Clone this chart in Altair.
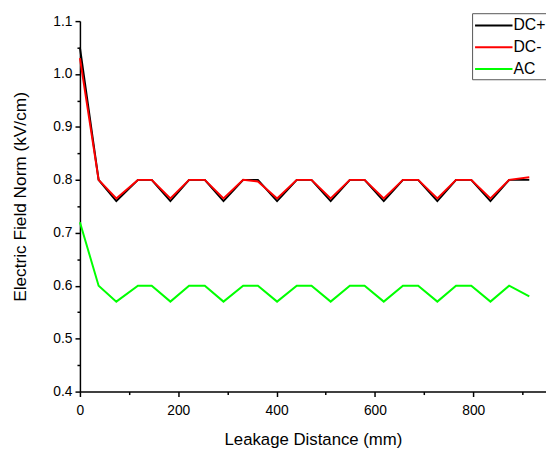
import altair as alt
import pandas as pd

distance = [0, 38, 74, 118, 146, 184, 222, 254, 292, 332, 362, 401, 441, 471,
            510, 549, 579, 618, 657, 688, 727, 765, 796, 835, 873, 914]
dc_plus = [1.05, 0.80, 0.76, 0.80, 0.80, 0.76, 0.80, 0.80, 0.76, 0.80, 0.80,
           0.76, 0.80, 0.80, 0.76, 0.80, 0.80, 0.76, 0.80, 0.80, 0.76, 0.80,
           0.80, 0.76, 0.80, 0.80]
dc_minus = [1.03, 0.80, 0.765, 0.80, 0.80, 0.765, 0.80, 0.80, 0.765, 0.80, 0.797,
            0.765, 0.80, 0.80, 0.765, 0.80, 0.80, 0.765, 0.80, 0.80, 0.765, 0.80,
            0.80, 0.765, 0.80, 0.805]
ac = [0.72, 0.60, 0.57, 0.60, 0.60, 0.57, 0.60, 0.60, 0.57, 0.60, 0.60,
      0.57, 0.60, 0.60, 0.57, 0.60, 0.60, 0.57, 0.60, 0.60, 0.57, 0.60,
      0.60, 0.57, 0.60, 0.58]

series_names = ["DC+", "DC-", "AC"]
series_colors = ["#000000", "#ff0000", "#00ff00"]

rows = []
for name, vals in zip(series_names, [dc_plus, dc_minus, ac]):
    for d, v in zip(distance, vals):
        rows.append({"Distance": d, "Field": v, "Series": name})
df = pd.DataFrame(rows)

x_ticks = list(range(0, 901, 100))
y_ticks = [round(0.4 + 0.05 * i, 2) for i in range(15)]

x_axis = alt.Axis(
    values=x_ticks,
    labelExpr="datum.value % 200 === 0 ? datum.label : ''",
    tickSize={"condition": {"test": "datum.value % 200 === 0", "value": 5}, "value": 3},
    grid=False,
    title="Leakage Distance (mm)",
    labelFontSize=14,
    titleFontSize=17,
    titleFontWeight="normal",
    labelPadding=7,
    titlePadding=15,
    domainColor="black",
    domainWidth=1.5,
    tickColor="black",
    tickWidth=1.5,
    labelColor="black",
    titleColor="black",
    labelFlush=False,
)
y_test = "abs(datum.value*10 - round(datum.value*10)) < 0.001"
y_axis = alt.Axis(
    values=y_ticks,
    format=".1f",
    labelExpr=f"{y_test} ? datum.label : ''",
    tickSize={"condition": {"test": y_test, "value": 5}, "value": 3},
    grid=False,
    title="Electric Field Norm (kV/cm)",
    labelFontSize=14,
    titleFontSize=17.5,
    titleFontWeight="normal",
    labelPadding=3,
    titleX=-60,
    titleY=178,
    titleAlign="center",
    titleBaseline="middle",
    titleAngle=270,
    domainColor="black",
    domainWidth=1.5,
    tickColor="black",
    tickWidth=1.5,
    labelColor="black",
    titleColor="black",
    labelFlush=False,
)

color = alt.Color(
    "Series:N",
    scale=alt.Scale(domain=series_names, range=series_colors),
    legend=alt.Legend(
        orient="none",
        legendX=398,
        legendY=-8,
        title=None,
        symbolType="M-1,0H3",
        symbolSize=361,
        symbolStrokeWidth=2,
        labelOffset=19,
        labelFontSize=16,
        labelColor="black",
        padding=2,
        rowPadding=3,
        strokeColor="#555555",
        fillColor="white",
        cornerRadius=0,
    ),
)

layers = []
for name in series_names:
    layers.append(
        alt.Chart(df)
        .transform_filter(alt.datum.Series == name)
        .mark_line(strokeWidth=2)
        .encode(
            x=alt.X("Distance:Q", scale=alt.Scale(domain=[0, 948], nice=False), axis=x_axis),
            y=alt.Y("Field:Q", scale=alt.Scale(domain=[0.4, 1.1], nice=False, zero=False), axis=y_axis),
            color=color,
        )
    )

chart = (
    alt.layer(*layers)
    .properties(
        width=473,
        height=376,
        autosize=alt.AutoSizeParams(type="none"),
        padding={"left": 73, "top": 10, "right": 0, "bottom": 58},
    )
    .configure(font="Liberation Sans")
    .configure_view(stroke=None)
)

chart.save("out.html", embed_options={"renderer": "svg", "actions": False})
